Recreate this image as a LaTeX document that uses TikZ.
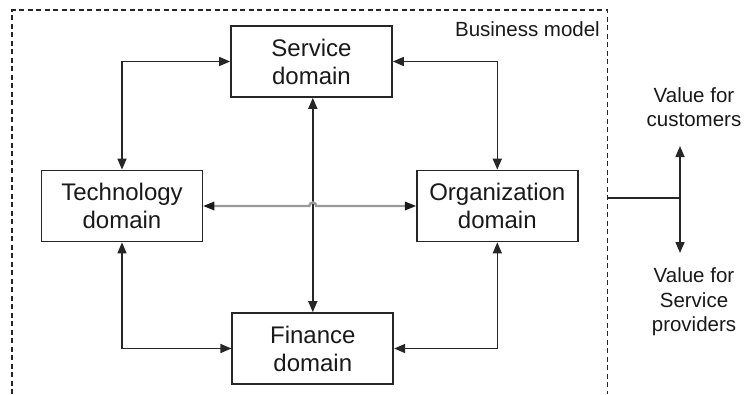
\documentclass[tikz,border=0pt]{standalone}
\usepackage{fontspec}
\setmainfont{Liberation Sans}
\usetikzlibrary{arrows.meta,calc}
\begin{document}
\begin{tikzpicture}[x=1pt,y=1pt,
  tip/.tip={Triangle[length=11pt,width=9pt]},
  domainbox/.style={draw=black!85,line width=1.7pt,align=center,inner sep=0pt,
    minimum width=161pt,minimum height=71pt,text=black!90,
    font=\fontsize{24}{28}\selectfont},
  link/.style={line width=1.5pt,draw=black!85,tip-tip},
  graylink/.style={line width=2.4pt,draw=black!40},
  lbl/.style={align=center,text=black!90,font=\fontsize{20.5}{24.5}\selectfont,inner sep=0pt}]
\useasboundingbox (0,0) rectangle (744,-394);

% dashed frame of the business model, open at the bottom
\draw[line width=1.3pt,dash pattern=on 5pt off 3.5pt,black!85]
  (12,-394) -- (12,-10) -- (607.5,-10) -- (607.5,-394);
\node[lbl,anchor=east] (bm) at (600,-29) {Business model};

% the four domains
\node[domainbox] (svc) at (311.5,-61.5) {Service\\domain};
\node[domainbox] (tech) at (122,-206) {Technology\\domain};
\node[domainbox] (org) at (497.3,-206) {Organization\\domain};
\node[domainbox] (fin) at (312.8,-348.5) {Finance\\domain};

% links round the ring
\draw[link] (svc.west) -| (tech.north);
\draw[link] (svc.east) -| (org.north);
\draw[link] (tech.south) |- (fin.west);
\draw[link] (org.south) |- (fin.east);

% vertical link through the middle
\draw[link] (svc.south -| fin.north) -- (fin.north);

% horizontal link, hopping over the vertical one
\coordinate (cross) at (fin.north |- tech.east);
\draw[graylink] ([xshift=8pt]tech.east) -- ([xshift=-3.5pt]cross)
  arc[start angle=180,end angle=0,radius=3.5pt] -- ([xshift=-8pt]org.west);
\fill[black!90] (tech.east) -- ++(11pt,4.5pt) -- ++(0,-9pt) -- cycle;
\fill[black!90] (org.west) -- ++(-11pt,4.5pt) -- ++(0,-9pt) -- cycle;

% value outputs on the right
\coordinate (tap) at (607.5,-198);
\coordinate (junc) at (680,-198);
\coordinate (vup) at (680,-146);
\coordinate (vdown) at (680,-253);
\draw[line width=1.5pt,black!85] (tap) -- (junc);
\draw[link] (vup) -- (vdown);
\node[lbl] (vcust) at (694,-107) {Value for\\customers};
\node[lbl] (vprov) at (694,-302) {Value for\\Service\\providers};
\end{tikzpicture}
\end{document}
